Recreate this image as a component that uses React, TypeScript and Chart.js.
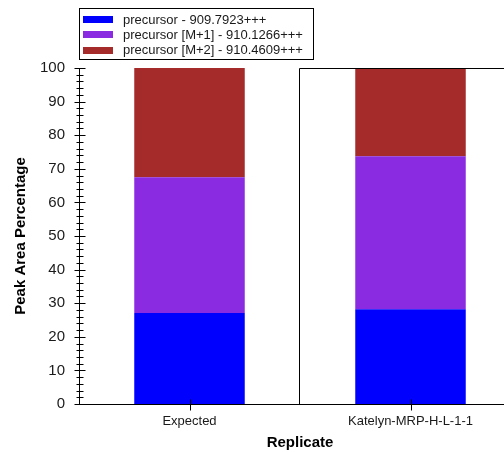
import React, { useEffect, useRef } from "react";
import { Chart, registerables } from "chart.js";

Chart.register(...registerables);

const categories = ["Expected", "Katelyn-MRP-H-L-1-1"];
const seriesLabels = [
  "precursor - 909.7923+++",
  "precursor [M+1] - 910.1266+++",
  "precursor [M+2] - 910.4609+++",
];
const seriesColors = ["#0000FF", "#8A2BE2", "#A52A2A"];
const precursorM0 = [27.1, 28.2];
const precursorM1 = [40.4, 45.5];
const precursorM2 = [32.5, 26.3];
const yTickMin = 0;
const yTickMax = 100;
const yTickStep = 10;
const yMinorStep = 2;
const selectedIndex = 1;

const FONT = "'Liberation Sans', Arial, sans-serif";

const decorPlugin = {
  id: "decor",
  afterDraw(chart: any) {
    const ctx = chart.ctx;
    const area = chart.chartArea;
    const x = chart.scales.x;
    const y = chart.scales.y;
    ctx.save();
    ctx.strokeStyle = "#000";
    ctx.lineWidth = 1;
    // y ticks (crossing the axis)
    const ax = Math.round(area.left) + 0.5;
    for (let v = yTickMin; v <= yTickMax; v += yMinorStep) {
      const py = Math.round(y.getPixelForValue(v)) + 0.5;
      const major = v % yTickStep === 0;
      const half = major ? 5 : 3;
      ctx.beginPath();
      ctx.moveTo(ax - half, py);
      ctx.lineTo(ax + half + 1, py);
      ctx.stroke();
    }
    // x ticks
    const by = Math.round(area.bottom) + 0.5;
    for (let i = 0; i < categories.length; i++) {
      const px = Math.round(x.getPixelForTick(i)) + 0.5;
      ctx.beginPath();
      ctx.moveTo(px, by - 5);
      ctx.lineTo(px, by + 6);
      ctx.stroke();
    }
    // selection box around selected replicate
    const c = x.getPixelForTick(selectedIndex);
    const prev = selectedIndex > 0 ? x.getPixelForTick(selectedIndex - 1) : null;
    const half = prev !== null ? (c - prev) / 2 : 110;
    const left = Math.round(c - half) - 0.5;
    const right = Math.round(c + half) - 0.5;
    const top = Math.round(area.top) + 0.5;
    ctx.beginPath();
    ctx.moveTo(left, by);
    ctx.lineTo(left, top);
    ctx.lineTo(right, top);
    ctx.lineTo(right, by);
    ctx.stroke();

    // legend
    const lx = 79.5, ly = 8.5, lw = 234, lh = 51;
    ctx.fillStyle = "#fff";
    ctx.fillRect(lx, ly, lw, lh);
    ctx.strokeStyle = "#000";
    ctx.strokeRect(lx, ly, lw, lh);
    ctx.font = `13px ${FONT}`;
    ctx.textBaseline = "middle";
    ctx.textAlign = "left";
    chart.data.datasets.forEach((ds: any, i: number) => {
      const cy = 20 + i * 15.3;
      ctx.fillStyle = ds.backgroundColor;
      ctx.fillRect(83, Math.round(cy - 4), 30, 7);
      ctx.fillStyle = "#1a1a1a";
      ctx.fillText(ds.label, 123, cy);
    });
    ctx.restore();
  },
};

export default function App() {
  const ref = useRef<HTMLCanvasElement | null>(null);
  useEffect(() => {
    const canvas = ref.current!;
    const data = [precursorM0, precursorM1, precursorM2];
    const chart = new Chart(canvas, {
      type: "bar",
      data: {
        labels: categories,
        datasets: data.map((d, i) => ({
          label: seriesLabels[i],
          data: d,
          backgroundColor: seriesColors[i],
          borderWidth: 0,
          barPercentage: 1,
          categoryPercentage: 0.5,
        })),
      },
      options: {
        responsive: false,
        animation: false,
        devicePixelRatio: 1,
        layout: { padding: { top: 68, right: 1, left: 0, bottom: 0 } },
        plugins: {
          legend: { display: false },
          tooltip: { enabled: false },
        },
        scales: {
          x: {
            stacked: true,
            grid: { display: false, drawTicks: false },
            border: { display: true, color: "#000", width: 1 },
            ticks: {
              padding: 10,
              color: "#1a1a1a",
              font: { family: FONT, size: 13 },
              maxRotation: 0,
            },
            title: {
              display: true,
              text: "Replicate",
              color: "#000",
              font: { family: FONT, size: 15, weight: "bold" },
              padding: { top: 0, bottom: 0 },
            },
            afterFit: (s: any) => {
              s.height = 48;
            },
          },
          y: {
            stacked: true,
            min: yTickMin,
            max: yTickMax,
            grid: { display: false, drawTicks: false },
            border: { display: true, color: "#000", width: 1 },
            ticks: {
              stepSize: yTickStep,
              padding: 14,
              color: "#1a1a1a",
              font: { family: FONT, size: 15 },
            },
            title: {
              display: true,
              text: "Peak Area Percentage",
              color: "#000",
              font: { family: FONT, size: 15, weight: "bold" },
              padding: { top: 12, bottom: 0 },
            },
            afterFit: (s: any) => {
              s.width = 79;
            },
          },
        },
      },
      plugins: [decorPlugin],
    });
    return () => chart.destroy();
  }, []);
  return (
    <div
      style={{
        position: "fixed",
        left: 0,
        top: 0,
        width: 504,
        height: 452,
        overflow: "hidden",
        background: "#fff",
      }}
    >
      <canvas ref={ref} width={522} height={452} style={{ display: "block" }} />
    </div>
  );
}
